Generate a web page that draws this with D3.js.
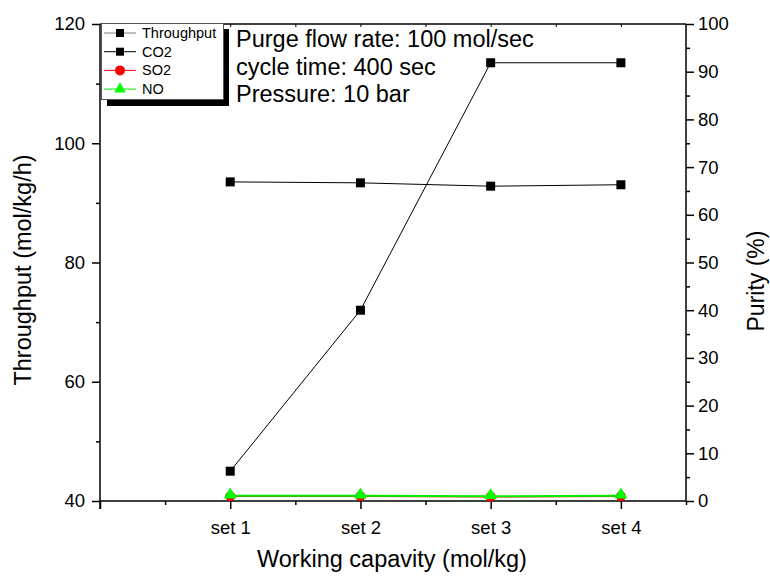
<!DOCTYPE html>
<html>
<head>
<meta charset="utf-8">
<script src="https://cdn.jsdelivr.net/npm/d3@7/dist/d3.min.js"></script>
<style>
  html, body { margin: 0; padding: 0; background: #fff; }
  svg { display: block; font-family: "Liberation Sans", Arial, sans-serif; }
</style>
</head>
<body>
<svg id="chart" width="770" height="578"></svg>
<script>
// Categories on the x axis
const categories = ["set 1", "set 2", "set 3", "set 4"];
// Throughput (left axis, mol/kg/h)
const throughput = [45.0, 72.0, 113.5, 113.5];
// Purities (right axis, %)
const co2Purity = [66.9, 66.7, 66.0, 66.3];
const so2Purity = [1.0, 1.0, 0.9, 1.0];
const noPurity = [1.1, 1.1, 1.0, 1.1];
// Axis tick values
const leftTicks = [40, 60, 80, 100, 120];
const rightTicks = [0, 10, 20, 30, 40, 50, 60, 70, 80, 90, 100];
const notes = ["Purge flow rate: 100 mol/sec", "cycle time: 400 sec", "Pressure: 10 bar"];

const svg = d3.select("#chart");
const L = 100, R = 686, T = 24, B = 501;

const x = d3.scaleLinear().domain([0, 4.5]).range([L, R]);
const yL = d3.scaleLinear().domain([40, 120]).range([B, T]);
const yR = d3.scaleLinear().domain([0, 100]).range([B, T]);
const xi = i => x(i + 1);

// Axes
const gBottom = svg.append("g").attr("transform", `translate(0,${B})`)
  .call(d3.axisBottom(x).tickValues([0, 1, 2, 3, 4])
    .tickFormat(d => d === 0 ? "" : categories[d - 1]).tickSize(8).tickPadding(12));
const gBottomMinor = svg.append("g").attr("transform", `translate(0,${B})`)
  .call(d3.axisBottom(x).tickValues([0.5, 1.5, 2.5, 3.5, 4.5]).tickFormat("").tickSize(4));
const gTop = svg.append("g").attr("transform", `translate(0,${T})`)
  .call(d3.axisBottom(x).tickValues([0.5, 1, 1.5, 2, 2.5, 3, 3.5, 4]).tickFormat("").tickSize(3));
const gLeft = svg.append("g").attr("transform", `translate(${L},0)`)
  .call(d3.axisLeft(yL).tickValues(leftTicks).tickSize(8).tickPadding(7));
const gLeftMinor = svg.append("g").attr("transform", `translate(${L},0)`)
  .call(d3.axisLeft(yL).tickValues([50, 70, 90, 110]).tickFormat("").tickSize(4));
const gRight = svg.append("g").attr("transform", `translate(${R},0)`)
  .call(d3.axisRight(yR).tickValues(rightTicks).tickSize(8).tickPadding(4));
const gRightMinor = svg.append("g").attr("transform", `translate(${R},0)`)
  .call(d3.axisRight(yR).tickValues(d3.range(5, 100, 10)).tickFormat("").tickSize(4));

[gBottom, gBottomMinor, gTop, gLeft, gLeftMinor, gRight, gRightMinor].forEach(g => {
  g.select(".domain").attr("stroke", "#000").attr("stroke-width", 1.5);
  g.selectAll(".tick line").attr("stroke", "#000").attr("stroke-width", 1.5);
  g.selectAll(".tick text").attr("font-size", 18.5).attr("fill", "#000")
    .attr("font-family", "Liberation Sans, Arial, sans-serif");
});
gTop.selectAll(".tick line").attr("stroke-width", 1);
gBottom.select(".domain").attr("d", `M${L},0H${R}`);
gTop.select(".domain").attr("d", `M${L},0H${R}`);
gLeft.select(".domain").attr("d", `M0,${T}V${B + 8}`);
gRight.select(".domain").attr("d", `M0,${T}V${B}`);
[gBottomMinor, gLeftMinor, gRightMinor].forEach(g => g.select(".domain").remove());

// Axis titles
svg.append("text").attr("x", 392).attr("y", 567).attr("text-anchor", "middle")
  .attr("font-size", 23.5).text("Working capavity (mol/kg)");
svg.append("text").attr("transform", `translate(31,270) rotate(-90)`).attr("text-anchor", "middle")
  .attr("font-size", 23.5).text("Throughput (mol/kg/h)");
svg.append("text").attr("transform", `translate(764,281) rotate(-90)`).attr("text-anchor", "middle")
  .attr("font-size", 23).text("Purity (%)");

// Series
const lineL = d3.line().x((d, i) => xi(i)).y(d => yL(d));
const lineR = d3.line().x((d, i) => xi(i)).y(d => yR(d));

function squares(data, yScale) {
  svg.append("g").selectAll("rect").data(data).join("rect")
    .attr("x", (d, i) => xi(i) - 4.5).attr("y", d => yScale(d) - 4.5)
    .attr("width", 9).attr("height", 9).attr("fill", "#000");
}

svg.append("path").datum(throughput).attr("d", lineL)
  .attr("fill", "none").attr("stroke", "#000").attr("stroke-width", 1);
squares(throughput, yL);

svg.append("path").datum(co2Purity).attr("d", lineR)
  .attr("fill", "none").attr("stroke", "#000").attr("stroke-width", 1);
squares(co2Purity, yR);

svg.append("path").datum(so2Purity).attr("d", lineR)
  .attr("fill", "none").attr("stroke", "#ff0000").attr("stroke-width", 1.5);
svg.append("g").selectAll("circle").data(so2Purity).join("circle")
  .attr("cx", (d, i) => xi(i)).attr("cy", d => yR(d)).attr("r", 5).attr("fill", "#ff0000");

svg.append("path").datum(noPurity).attr("d", lineR)
  .attr("fill", "none").attr("stroke", "#00ee00").attr("stroke-width", 2);
const tri = d3.symbol().type(d3.symbolTriangle).size(70);
svg.append("g").selectAll("path").data(noPurity).join("path")
  .attr("d", tri).attr("transform", (d, i) => `translate(${xi(i)},${yR(d) - 1})`)
  .attr("fill", "#00ff00");

// Legend with drop shadow
const lg = svg.append("g");
lg.append("rect").attr("x", 107).attr("y", 29).attr("width", 122).attr("height", 77).attr("fill", "#000");
lg.append("rect").attr("x", 101.5).attr("y", 23.5).attr("width", 122).attr("height", 76)
  .attr("fill", "#fff").attr("stroke", "#555").attr("stroke-width", 1);
const legendItems = [
  { name: "Throughput", color: "#808080", mark: "square", fill: "#000" },
  { name: "CO2", color: "#000", mark: "square", fill: "#000" },
  { name: "SO2", color: "#ff0000", mark: "circle", fill: "#ff0000" },
  { name: "NO", color: "#00ee00", mark: "triangle", fill: "#00ff00" }
];
legendItems.forEach((it, k) => {
  const cy = 33 + k * 18.7;
  lg.append("line").attr("x1", 104).attr("x2", 136).attr("y1", cy).attr("y2", cy)
    .attr("stroke", it.color).attr("stroke-width", 1);
  if (it.mark === "square") {
    lg.append("rect").attr("x", 116).attr("y", cy - 4).attr("width", 8).attr("height", 8).attr("fill", it.fill);
  } else if (it.mark === "circle") {
    lg.append("circle").attr("cx", 120).attr("cy", cy).attr("r", 5).attr("fill", it.fill);
  } else {
    lg.append("path").attr("d", d3.symbol().type(d3.symbolTriangle).size(60))
      .attr("transform", `translate(120,${cy})`).attr("fill", it.fill);
  }
  lg.append("text").attr("x", 142).attr("y", cy + 5).attr("font-size", 14.5).text(it.name);
});

// Operating conditions note
notes.forEach((t, k) => {
  svg.append("text").attr("x", 236).attr("y", 47 + k * 27.5).attr("font-size", 23.5).text(t);
});
</script>
</body>
</html>
